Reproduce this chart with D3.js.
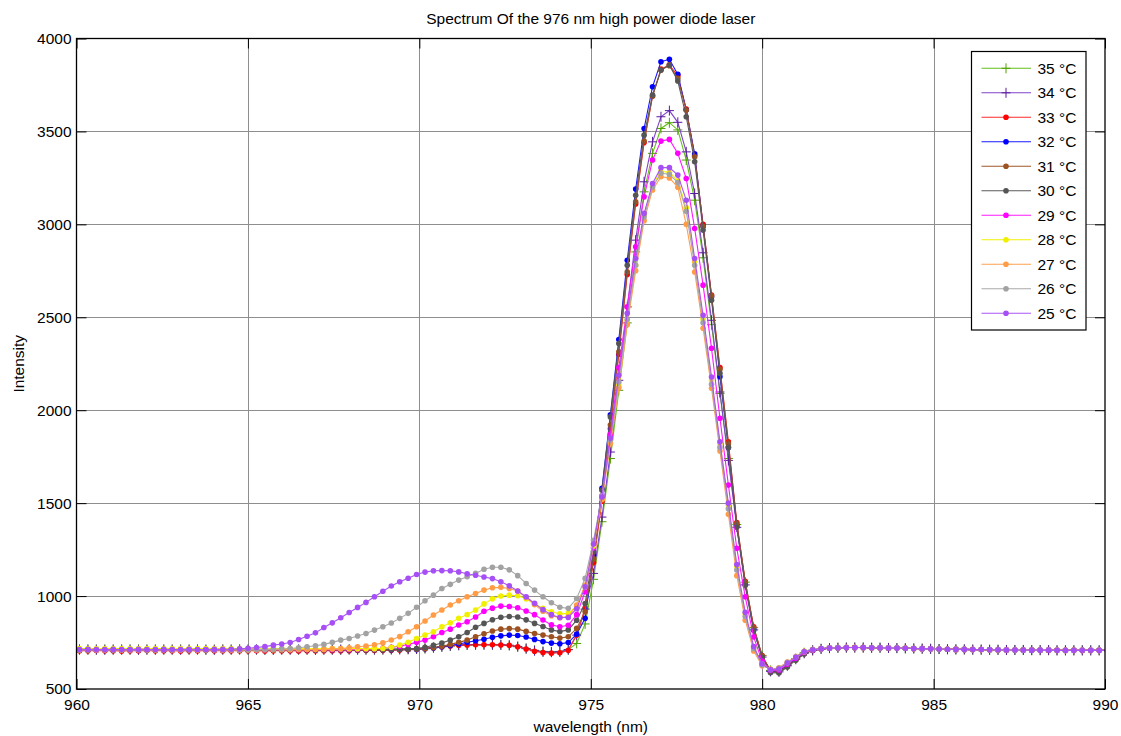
<!DOCTYPE html>
<html>
<head>
<meta charset="utf-8">
<script src="https://cdn.jsdelivr.net/npm/d3@7"></script>
<style>
  body { margin: 0; background: #fff; }
  svg { font-family: "Liberation Sans", Arial, sans-serif; }
</style>
</head>
<body>
<svg id="chart" width="1121" height="736"></svg>
<script>
// ---- data -----------------------------------------------------------------
// wavelength grid of the analyser (one sample every ~0.246 nm)
const lambda0 = 959.842, lambdaStep = 0.2458, nSamples = 124;
const wavelength = d3.range(nSamples).map(i => lambda0 + i * lambdaStep);

const xTicks = [960, 965, 970, 975, 980, 985, 990];
const yTicks = [500, 1000, 1500, 2000, 2500, 3000, 3500, 4000];

const labels = ["35 °C", "34 °C", "33 °C", "32 °C", "31 °C", "30 °C", "29 °C", "28 °C", "27 °C", "26 °C", "25 °C"];
const lineColors = ["#66c01a", "#7f45c9", "#ff2a2a", "#1a1aff", "#a0562a", "#5a5a5a", "#ff1aff", "#f2f200", "#ffa050", "#a8a8a8", "#aa55f5"];
const markerColors = ["#4fa000", "#5a1a9e", "#ff0000", "#0000ff", "#9c5220", "#555555", "#ff00ff", "#f0f000", "#ff9c45", "#a2a2a2", "#a64ff5"];
const markers = ["plus", "plus", "dot", "dot", "dot", "dot", "dot", "dot", "dot", "dot", "dot"];

const t35 = [712,713,711,712,713,712,711,712,713,712,712,711,712,713,712,712,711,712,713,712,712,
  712,712,711,712,712,712,711,712,712,712, 712,711,712,712,712,712,713,713,714,714,
  715,718,722,727,731,735,737,738,738,738, 737,735,728,718,708,702,700,702,712,745,
  850,1090,1400,1740,2107,2470,2852,3175,3382,3516,3547,3508,3346,3130,2820,2460,2090,1740,1385,1075,830,680,
  600,598,630,664,695,708,716,720,722,723, 723,723,722,722,721,720,719,718,717,716,
  715,714,713,713,712,712,711,711,710,710, 710,709,709,709,708,708,708,708,708,708, 708];
const t34 = [711,712,713,712,711,712,713,712,711,712,712,713,712,711,712,713,712,711,712,712,713,
  712,713,712,711,712,712,713,712,711,712, 712,712,713,712,712,712,712,713,713,714,
  716,719,723,728,733,736,738,739,739,739, 738,735,728,717,706,700,698,700,712,790,
  930,1122,1425,1775,2161,2556,2915,3229,3444,3579,3612,3549,3390,3166,2847,2484,2098,1730,1370,1060,818,672,
  595,592,625,660,692,708,716,720,722,723, 723,723,722,722,721,720,719,718,717,716,
  715,714,713,713,712,712,711,711,710,710, 710,709,709,709,708,708,708,708,708,708, 708];
const t33 = [705,706,706,707,706,706,705,706,706,707,706,706,706,705,706,706,707,706,706,706,706,
  706,706,705,706,706,706,705,706,706,706, 706,706,706,707,707,707,708,709,710,712,
  715,718,722,727,732,735,737,738,738,738, 737,735,727,715,703,696,693,695,708,790,
  935,1180,1510,1900,2300,2730,3110,3440,3690,3835,3858,3800,3620,3370,3000,2620,2230,1830,1395,1080,835,680,
  598,596,628,662,693,708,716,720,722,723, 723,723,722,722,721,720,719,718,717,716,
  715,714,713,713,712,712,711,711,710,710, 710,709,709,709,708,708,708,708,708,708, 708];
const t32 = [711,711,712,711,711,711,712,711,711,711,712,711,711,711,712,711,711,711,712,711,711,
  711,711,712,711,711,711,712,711,711,711, 711,711,711,711,711,711,711,711,712,712,
  713,716,720,727,734,742,751,760,768,778, 786,790,788,780,767,755,747,743,750,795,
  880,1220,1580,1975,2380,2807,3190,3516,3740,3875,3888,3807,3615,3380,2990,2610,2180,1800,1380,1065,822,672,
  596,594,626,660,692,708,716,720,722,723, 723,723,722,722,721,720,719,718,717,716,
  715,714,713,713,712,712,711,711,710,710, 710,709,709,709,708,708,708,708,708,708, 708];
const t31 = [710,711,711,710,711,711,710,711,711,710,711,711,710,711,711,710,711,711,710,711,711,
  710,711,711,710,711,711,710,711,711,710, 711,711,711,711,711,711,711,712,712,713,
  714,717,722,730,740,751,763,781,797,812, 822,825,822,810,799,790,781,774,781,826,
  916,1200,1530,1920,2314,2744,3121,3448,3690,3830,3854,3786,3615,3364,2990,2615,2220,1820,1390,1075,830,678,
  592,590,622,658,690,708,716,720,722,723, 723,723,722,722,721,720,719,718,717,716,
  715,714,713,713,712,712,711,711,710,710, 710,709,709,709,708,708,708,708,708,708, 708];
const t30 = [711,711,710,711,711,710,711,711,710,711,711,710,711,711,710,711,711,710,711,711,711,
  711,711,711,712,711,711,711,712,711,711, 711,711,711,711,711,711,712,713,714,716,
  718,725,735,747,763,781,804,832,853,873, 886,890,887,872,853,836,818,809,818,870,
  960,1240,1570,1964,2359,2780,3157,3480,3696,3830,3857,3771,3579,3337,2969,2592,2199,1800,1370,1057,815,671,
  588,586,618,655,688,708,716,720,722,723, 723,723,722,722,721,720,719,718,717,716,
  715,714,713,713,712,712,711,711,710,710, 710,709,709,709,708,708,708,708,708,708, 708];
const t29 = [712,712,712,711,712,712,712,711,712,712,712,711,712,712,712,711,712,712,712,711,712,
  712,712,711,712,712,712,711,712,712,712, 712,712,713,713,714,716,719,724,730,740,
  751,763,781,804,822,844,862,887,918,935, 946,944,937,920,900,871,845,835,843,900,
  1023,1260,1540,1870,2230,2556,2879,3148,3346,3448,3457,3382,3247,2978,2673,2333,1957,1598,1257,996,780,650,
  600,602,634,666,697,709,716,720,722,723, 723,723,722,722,721,720,719,718,717,716,
  715,714,713,713,712,712,711,711,710,710, 710,709,709,709,708,708,708,708,708,708, 708];
const t28 = [717,717,718,717,717,718,717,717,718,717,717,718,717,717,718,717,717,718,717,717,717,
  717,717,716,717,717,716,717,717,716,717, 717,716,717,717,717,717,718,725,737,751,
  772,790,808,835,856,880,901,925,958,985, 1000,1005,1002,985,956,934,916,904,907,945,
  1050,1270,1520,1830,2134,2484,2780,3050,3210,3285,3280,3235,3090,2800,2490,2160,1820,1490,1160,905,725,634,
  605,610,642,672,701,712,718,721,723,724, 724,723,723,722,721,720,719,718,717,716,
  715,714,713,713,712,712,711,711,710,710, 710,709,709,709,708,708,708,708,708,708, 708];
const t27 = [710,710,711,710,710,711,710,710,711,710,710,711,710,710,711,710,710,711,710,710,710,
  710,710,711,711,711,711,712,712,712,713, 716,718,722,727,731,738,748,764,782,808,
  835,866,898,925,952,975,996,1014,1032,1045, 1047,1041,1027,993,954,918,894,884,889,952,
  1059,1280,1520,1820,2120,2460,2750,3020,3185,3256,3250,3200,3000,2744,2441,2118,1780,1440,1110,870,705,625,
  608,614,645,674,703,712,717,720,722,723, 723,723,722,722,721,720,719,718,717,716,
  715,714,713,713,712,712,711,711,710,710, 710,709,709,709,708,708,708,708,708,708, 708];
const t26 = [711,711,711,712,711,711,711,712,711,711,711,712,711,711,711,712,711,711,711,712,711,
  711,712,713,714,716,718,722,727,733,740, 751,763,772,785,799,817,835,855,880,907,
  940,975,1005,1041,1063,1086,1104,1122,1144,1155, 1155,1141,1110,1068,1032,996,964,940,934,987,
  1095,1300,1540,1840,2152,2490,2780,3040,3200,3275,3270,3225,3070,2780,2470,2140,1800,1470,1140,890,718,630,
  605,611,643,672,702,712,717,720,722,723, 723,723,722,722,721,720,719,718,717,716,
  715,714,713,713,712,712,711,711,710,710, 710,709,709,709,708,708,708,708,708,708, 708];
const t25 = [712,712,713,712,712,713,712,712,713,712,712,713,712,712,713,712,712,713,713,714,716,
  719,723,728,736,742,750,766,784,802,831, 856,883,912,939,966,996,1026,1054,1077,1096,
  1116,1129,1136,1137,1136,1130,1120,1112,1103,1094, 1077,1055,1027,996,961,927,900,885,885,932,
  1050,1280,1533,1850,2188,2522,2816,3059,3220,3305,3305,3265,3130,2816,2511,2179,1830,1500,1170,913,729,636,
  603,608,640,670,700,711,717,720,722,723, 723,723,722,722,721,720,719,718,717,716,
  715,714,713,713,712,712,711,711,710,710, 710,709,709,709,708,708,708,708,708,708, 708];

const intensities = [t35, t34, t33, t32, t31, t30, t29, t28, t27, t26, t25];

// ---- layout ---------------------------------------------------------------
const plotLeft = 76.5, plotRight = 1105, plotTop = 38.5, plotBottom = 689;
const dotRadius = 2.8;

const svg = d3.select("#chart");
const x = d3.scaleLinear().domain([960, 990]).range([plotLeft, plotRight]);
const y = d3.scaleLinear().domain([500, 4000]).range([plotBottom, plotTop]);

svg.append("defs").append("clipPath").attr("id", "plotClip")
  .append("rect")
  .attr("x", plotLeft).attr("y", plotTop)
  .attr("width", plotRight - plotLeft).attr("height", plotBottom - plotTop);

// grid
const grid = svg.append("g").attr("stroke", "#8e8e8e").attr("stroke-width", 1);
grid.selectAll(".vgrid").data(xTicks.slice(1, -1)).enter()
  .append("line")
  .attr("x1", d => Math.round(x(d)) + 0.5).attr("x2", d => Math.round(x(d)) + 0.5)
  .attr("y1", plotTop).attr("y2", plotBottom);
grid.selectAll(".hgrid").data(yTicks.slice(1, -1)).enter()
  .append("line")
  .attr("y1", d => Math.round(y(d)) + 0.5).attr("y2", d => Math.round(y(d)) + 0.5)
  .attr("x1", plotLeft).attr("x2", plotRight);

// axes with inward ticks on all four sides
function styleAxis(g) {
  g.select(".domain").remove();
  g.selectAll("line").attr("stroke", "#000");
  g.selectAll("text").attr("fill", "#000").attr("font-size", "15.5px")
    .attr("font-family", "'Liberation Sans', Arial, sans-serif");
}
svg.append("g").attr("transform", `translate(0,${plotBottom})`)
  .call(d3.axisBottom(x).tickValues(xTicks).tickFormat(d3.format("d"))
    .tickSizeInner(-10).tickSizeOuter(0).tickPadding(10))
  .call(styleAxis);
svg.append("g").attr("transform", `translate(0,${plotTop})`)
  .call(d3.axisTop(x).tickValues(xTicks).tickSizeInner(-10).tickSizeOuter(0).tickFormat(""))
  .call(styleAxis);
svg.append("g").attr("transform", `translate(${plotLeft},0)`)
  .call(d3.axisLeft(y).tickValues(yTicks).tickFormat(d3.format("d"))
    .tickSizeInner(-10).tickSizeOuter(0).tickPadding(5))
  .call(styleAxis);
svg.append("g").attr("transform", `translate(${plotRight},0)`)
  .call(d3.axisRight(y).tickValues(yTicks).tickSizeInner(-10).tickSizeOuter(0).tickFormat(""))
  .call(styleAxis);

// spectra
const plot = svg.append("g").attr("clip-path", "url(#plotClip)");
const line = d3.line()
  .x((d, i) => x(wavelength[i]))
  .y(d => y(d));

const plusPath = "M-4.5,0H4.5M0,-5V5";

intensities.forEach((values, s) => {
  const g = plot.append("g").attr("class", "series");
  g.append("path")
    .datum(values)
    .attr("d", line)
    .attr("fill", "none")
    .attr("stroke", lineColors[s])
    .attr("stroke-width", 1.1);
  if (markers[s] === "plus") {
    g.selectAll("path.mk").data(values).enter()
      .append("path")
      .attr("class", "mk")
      .attr("d", plusPath)
      .attr("transform", (d, i) => `translate(${x(wavelength[i])},${y(d)})`)
      .attr("stroke", markerColors[s])
      .attr("stroke-width", 1)
      .attr("fill", "none");
  } else {
    g.selectAll("circle").data(values).enter()
      .append("circle")
      .attr("cx", (d, i) => x(wavelength[i]))
      .attr("cy", d => y(d))
      .attr("r", dotRadius)
      .attr("fill", markerColors[s]);
  }
});

// frame
svg.append("rect")
  .attr("x", plotLeft).attr("y", plotTop)
  .attr("width", plotRight - plotLeft).attr("height", plotBottom - plotTop)
  .attr("fill", "none").attr("stroke", "#000").attr("stroke-width", 1.3);

// titles
svg.append("text")
  .attr("x", (plotLeft + plotRight) / 2).attr("y", 24)
  .attr("text-anchor", "middle").attr("font-size", "15.5px")
  .text("Spectrum Of the 976 nm high power diode laser");
svg.append("text")
  .attr("x", (plotLeft + plotRight) / 2).attr("y", 732)
  .attr("text-anchor", "middle").attr("font-size", "15.5px")
  .text("wavelength (nm)");
svg.append("text")
  .attr("transform", `translate(24,${(plotTop + plotBottom) / 2}) rotate(-90)`)
  .attr("text-anchor", "middle").attr("font-size", "15.5px")
  .text("Intensity");

// legend
const legend = svg.append("g").attr("transform", "translate(971.5,51.5)");
legend.append("rect")
  .attr("width", 114.5).attr("height", 278.5)
  .attr("fill", "#fff").attr("stroke", "#000").attr("stroke-width", 1.2);

const entry = legend.selectAll(".entry").data(labels).enter()
  .append("g")
  .attr("class", "entry")
  .attr("transform", (d, i) => `translate(0,${16.8 + i * 24.5})`);
entry.append("line")
  .attr("x1", 10).attr("x2", 59.5).attr("y1", 0).attr("y2", 0)
  .attr("stroke", (d, i) => lineColors[i]).attr("stroke-width", 1.1);
entry.each(function (d, i) {
  const e = d3.select(this);
  if (markers[i] === "plus") {
    e.append("path").attr("d", plusPath).attr("transform", "translate(34.5,0)")
      .attr("stroke", markerColors[i]).attr("fill", "none");
  } else {
    e.append("circle").attr("cx", 34.5).attr("cy", 0).attr("r", dotRadius)
      .attr("fill", markerColors[i]);
  }
});
entry.append("text")
  .attr("x", 66).attr("y", 5.5)
  .attr("font-size", "15.5px")
  .text(d => d);
</script>
</body>
</html>
